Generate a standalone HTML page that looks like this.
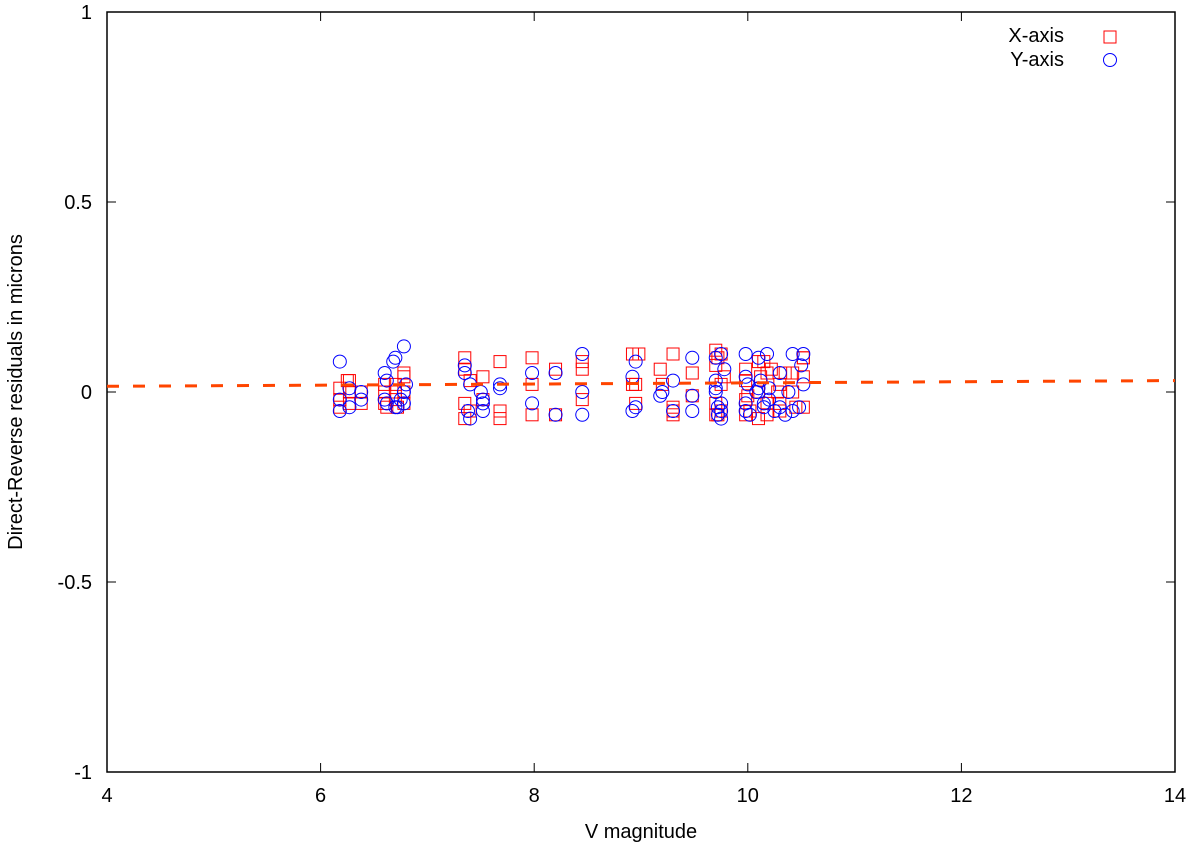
<!DOCTYPE html>
<html><head><meta charset="utf-8"><style>
body{margin:0;background:#fff}
svg text{font-family:"Liberation Sans",sans-serif;font-size:20px;fill:#000}
</style></head><body>
<svg id="c" width="1200" height="849"></svg>
<script>
const xTicks=[4,6,8,10,12,14];
const yTicks=[-1,-0.5,0,0.5,1];
const yTickLabels=["-1","-0.5","0","0.5","1"];
const xMag=[6.18,6.18,6.18,6.27,6.27,6.27,6.38,6.38,6.6,6.6,6.6,6.7,6.7,6.7,6.78,6.78,6.78,7.35,7.35,7.35,7.35,7.4,7.4,7.52,7.52,7.68,7.68,7.68,7.98,7.98,7.98,8.2,8.2,8.45,8.45,8.45,8.92,8.92,8.95,8.95,9.18,9.3,9.3,9.3,9.48,9.48,9.7,9.7,9.7,9.7,9.75,9.75,9.75,9.98,9.98,9.98,9.98,10.1,10.1,10.1,10.18,10.18,10.18,10.3,10.3,10.3,10.42,10.42,10.52,10.52,10.52,
6.62,6.72,6.78,9.72,9.78,9.72,10.0,10.02,10.12,10.15,10.22,10.28,10.35,10.45,10.52,9.3,9.2,8.98,6.25];
const xRes=[0.01,-0.02,-0.04,0.03,0.0,-0.03,0.0,-0.03,0.0,-0.03,0.02,0.02,-0.02,0.0,0.05,-0.03,0.0,0.09,0.06,-0.03,-0.07,0.03,-0.05,0.04,-0.02,0.08,-0.05,-0.07,0.09,0.02,-0.06,0.06,-0.06,0.08,0.06,-0.02,0.1,0.02,-0.03,0.02,0.06,0.1,-0.04,-0.06,0.05,-0.01,0.11,0.07,-0.03,-0.06,0.1,0.02,-0.05,0.06,0.03,-0.02,-0.06,0.08,0.0,-0.07,0.05,-0.03,-0.06,0.02,-0.03,-0.05,0.05,0.0,0.09,0.04,-0.04,
-0.04,-0.04,0.04,0.09,0.04,-0.06,-0.01,-0.05,0.04,0.08,0.06,0.0,0.05,-0.04,0.09,-0.05,0.02,0.1,0.03];
const yMag=[6.18,6.18,6.18,6.27,6.27,6.38,6.38,6.6,6.6,6.62,6.68,6.7,6.72,6.78,6.8,6.78,7.35,7.35,7.38,7.4,7.4,7.5,7.52,7.52,7.68,7.68,7.98,7.98,8.2,8.2,8.45,8.45,8.45,8.92,8.92,8.95,9.18,9.2,9.3,9.48,9.48,9.48,9.7,9.7,9.72,9.75,9.75,9.75,9.98,9.98,9.98,10.1,10.1,10.15,10.18,10.2,10.3,10.3,10.42,10.42,10.52,10.52,
6.62,6.7,6.75,6.78,7.52,9.7,9.72,9.75,9.78,9.7,9.98,10.0,10.02,10.08,10.12,10.15,10.2,10.25,10.35,10.38,10.48,10.5,9.3,8.95];
const yRes=[0.08,-0.02,-0.05,0.01,-0.04,0.0,-0.02,0.05,-0.02,0.03,0.08,0.09,-0.04,0.12,0.02,-0.03,0.07,0.05,-0.05,0.02,-0.07,0.0,-0.03,-0.05,0.01,0.02,0.05,-0.03,0.05,-0.06,0.1,0.0,-0.06,0.04,-0.05,0.08,-0.01,0.0,-0.05,0.09,-0.01,-0.05,0.09,0.0,-0.06,0.1,-0.03,-0.07,0.1,0.04,-0.05,0.09,0.01,-0.04,0.1,-0.02,0.05,-0.04,0.1,-0.05,0.1,0.02,
-0.03,-0.04,-0.02,0.0,-0.02,0.03,-0.04,-0.05,0.06,0.01,-0.03,0.02,-0.06,0.0,0.03,-0.03,0.01,-0.05,-0.06,0.0,-0.04,0.07,0.03,-0.04];
const fitX=[4,14];
const fitY=[0.015,0.03];
const L=107,R=1175,T=12,B=772;
const sx=v=>L+(v-4)/10*(R-L);
const sy=v=>T+(1-v)/2*(B-T);
const svg=document.getElementById('c');
const NS='http://www.w3.org/2000/svg';
function mk(t,a,p){const e=document.createElementNS(NS,t);for(const k in a)e.setAttribute(k,a[k]);(p||svg).appendChild(e);return e;}
const frame=mk('rect',{x:L,y:T,width:R-L,height:B-T,fill:'none',stroke:'#000','stroke-width':1.5});


xTicks.forEach(v=>{
  const x=sx(v);
  const t=mk('line',{x1:x,y1:B,x2:x,y2:B-9,stroke:'#000'});
  
  
  const t2=mk('line',{x1:x,y1:T,x2:x,y2:T+9,stroke:'#000'});
  
  
  const l=mk('text',{x:x,y:B+30,'text-anchor':'middle'});l.textContent=v;
  
  
});
yTicks.forEach((v,i)=>{
  const y=sy(v);
  const t=mk('line',{x1:L,y1:y,x2:L+9,y2:y,stroke:'#000'});
  
  
  const t2=mk('line',{x1:R,y1:y,x2:R-9,y2:y,stroke:'#000'});
  
  
  const l=mk('text',{x:L-15,y:y+7,'text-anchor':'end'});l.textContent=yTickLabels[i];
  
  
});
const xt=mk('text',{x:(L+R)/2,y:838,'text-anchor':'middle'});xt.textContent='V magnitude';


const yt=mk('text',{x:0,y:0,'text-anchor':'middle',transform:`translate(22,${(T+B)/2}) rotate(-90)`});yt.textContent='Direct-Reverse residuals in microns';


xMag.forEach((m,i)=>{
  const r=mk('rect',{x:sx(m)-6,y:sy(xRes[i])-6,width:12,height:12,fill:'none',stroke:'#f00','stroke-width':1});
  
  
});
yMag.forEach((m,i)=>{
  const c=mk('circle',{cx:sx(m),cy:sy(yRes[i]),r:6.5,fill:'none',stroke:'#00f','stroke-width':1});
  
  
});
const fit=mk('line',{x1:sx(fitX[0]),y1:sy(fitY[0]),x2:sx(fitX[1]),y2:sy(fitY[1]),stroke:'#ff4500','stroke-width':3,'stroke-dasharray':'12,14'});


const l1=mk('text',{x:1064,y:42,'text-anchor':'end'});l1.textContent='X-axis';


const lr=mk('rect',{x:1104,y:31,width:12,height:12,fill:'none',stroke:'#f00'});


const l2=mk('text',{x:1064,y:66,'text-anchor':'end'});l2.textContent='Y-axis';


const lc=mk('circle',{cx:1110,cy:60,r:6.5,fill:'none',stroke:'#00f'});


</script>
</body></html>
